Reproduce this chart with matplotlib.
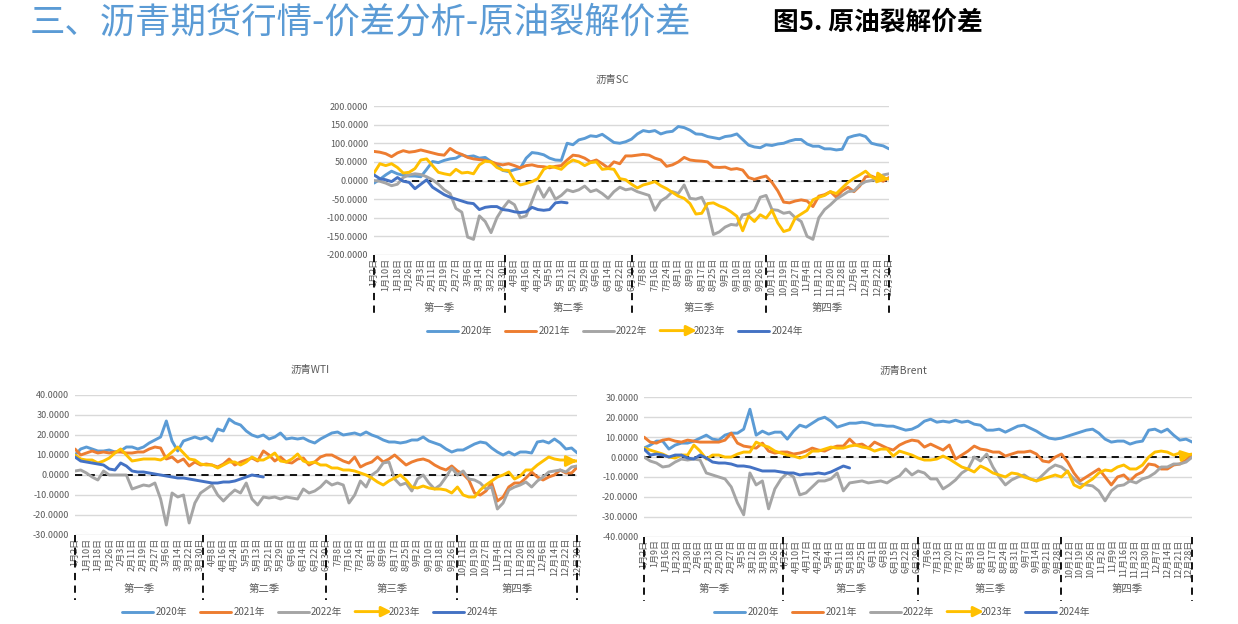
# -*- coding: utf-8 -*-
"""
沥青期货行情-价差分析-原油裂解价差
沥青SC / 沥青WTI / 沥青Brent 季节性走势
"""
import numpy as np
import matplotlib
matplotlib.use('Agg')
from matplotlib import pyplot as plt
from matplotlib.legend_handler import HandlerBase
from matplotlib.patches import FancyArrowPatch

plt.rcParams['font.family'] = ['Noto Sans CJK SC', 'DejaVu Sans']
plt.rcParams['axes.unicode_minus'] = False

###数据: 每4个日期取一个点 (半个刻度)
years = ['2020年', '2021年', '2022年', '2023年', '2024年']
colors = ['#5B9BD5', '#ED7D31', '#A5A5A5', '#FFC000', '#4472C4']

sc_2020 = [-7, 3, 15, 25, 18, 14, 12, 12, 10, 30,
           51, 48, 54, 58, 60, 69, 64, 66, 60, 62,
           51, 42, 27, 24, 29, 33, 60, 75, 73, 69,
           60, 55, 54, 100, 96, 109, 113, 120, 118, 124,
           113, 102, 100, 104,
           111, 125, 134, 131, 134, 125,
           130, 132, 145, 142, 135, 125, 124, 118, 115, 112,
           118, 120, 125, 110, 95, 90, 88, 96, 94, 98,
           100, 106, 110, 110, 98, 92, 92, 85, 85, 82,
           84, 115, 120, 123, 118, 100, 96, 93, 85]
sc_2021 = [78, 76, 72, 64, 74, 80, 76, 78, 82, 78,
           74, 70, 68, 86, 76, 70, 62, 58, 56, 54,
           50, 45, 42, 45, 40, 34, 40, 42, 38, 37,
           34, 38, 40, 55, 68, 66, 60, 50, 55, 45,
           34, 50, 45, 66,
           66, 68, 70, 68, 60, 55,
           38, 42, 50, 62, 55, 53, 52, 50, 36, 35,
           36, 30, 32, 28, 8, 3, 8, 12, -5, -28,
           -58, -60, -55, -52, -55, -70, -42, -38, -30, -45,
           -28, -18, -30, -15, 10, 12, 5, -2, 8]
sc_2022 = [0, -2, -7, -14, -10, 8, 15, 18, 16, 10,
           2, -10, -25, -35, -75, -85, -152, -158, -95, -110,
           -140, -100, -75, -55, -65, -100, -95, -55, -15, -45,
           -20, -50, -40, -25, -30, -25, -15, -30, -25, -35,
           -48, -30, -18, -25,
           -22, -30, -35, -40, -80, -55,
           -45, -30, -35, -12, -48, -50, -45, -78, -145, -138,
           -125, -118, -120, -92, -90, -80, -45, -40, -78, -80,
           -88, -85, -100, -110, -150, -158, -100, -78, -65, -50,
           -40, -30, -28, -12, -3, 0, 2, 15, 18]
sc_2023 = [20, 45, 40, 45, 35, 20, 22, 32, 55, 58,
           40, 22, 18, 15, 30, 20, 22, 18, 42, 52,
           50, 35, 28, 27, 0, -12, -8, -3, 5, 30,
           38, 35, 30, 45, 55, 50, 40, 48, 50, 30,
           32, 30, 5, 2,
           -10, -20, -12, -8, -3, -14,
           -22, -32, -42, -48, -62, -90, -88, -62, -60, -68,
           -74, -84, -96, -135, -95, -110, -92, -101, -80, -114,
           -137, -132, -100, -90, -80, -52, -45, -40, -30, -35,
           -20, -5, 6, 15, 25, 10, 2, 6, 4]
sc_2024 = [15, 5, 2, -3, 8, -2, -5, -22, -10, 2,
           -18, -28, -38, -45, -50, -55, -60, -62, -78, -72,
           -70, -70, -78, -80, -84, -86, -84, -72, -78, -80,
           -78, -60, -58, -60]

wti_2020 = [10, 13, 14, 13, 12, 12, 12.5, 11.5, 12, 14,
            14, 13, 14, 16, 17.5, 19, 27, 17, 12, 17,
            18, 19, 18, 19, 17, 23, 22, 28, 26, 25,
            22, 20, 19, 20, 18, 19, 21, 18, 18.5, 18,
            18.5, 17, 16, 18,
            19.5, 21, 21.5, 20, 20.5, 21,
            20, 21.5, 20, 19, 17.5, 16.5, 16.5, 16, 16.5, 17.5,
            17.5, 19, 17, 16, 15, 13, 11.5, 12.5, 12.5, 14,
            15.5, 16.5, 16, 13.5, 11.5, 10, 11.5, 10, 11.5, 11.5,
            11, 16.5, 17, 16, 18, 16, 13, 13.5, 11]
wti_2021 = [13, 10, 11, 12, 11, 11.5, 11, 11.5, 11.5, 11,
            11, 11.5, 11.5, 13, 14, 13.5, 8, 9, 6.5, 8,
            4.5, 6.5, 5, 5.5, 5, 4, 5.5, 8, 5, 6.5,
            7.5, 8.5, 7, 12, 10, 7, 9, 6.5, 6, 8,
            8.5, 5, 6.5, 9,
            10, 10, 8.5, 7, 6, 9,
            4, 5.5, 6.5, 9, 6.5, 8, 10, 7.5, 5, 6.5,
            7.5, 8, 7, 5, 3.5, 2.5, 4.5, 2, 0.5, -2.5,
            -9, -10, -8, -4, -13, -11, -6, -4, -4, -1.5,
            1.5, -1, -2.5, -1, 0, 2.5, 1, 1, 4]
wti_2022 = [2, 2.5, 1, -1, -2.5, 2, 0, 0, 0, 0,
            -7, -6, -5, -5.5, -4, -12, -25, -9, -11, -10,
            -24, -14, -9, -7, -5, -10, -13, -10, -7.5, -9,
            -4, -12, -15, -11, -11.5, -11, -12, -11, -11.5, -12,
            -7, -9, -8, -6,
            -3, -5, -4, -5, -14, -10,
            -3, -6, 0, 2, 6, 6.5, -2, -5, -4, -8,
            -2, 0, -4, -7, -5, -1, 3.5, 0, 2, -2,
            -2.5, -4, -7, -6, -17, -14, -7.5, -6, -5, -3.5,
            -6, -3, -1, 1.5, 2, 2.5, 1.5, 4, 4.5]
wti_2023 = [10, 8, 7.5, 7.5, 6, 7, 8.5, 11, 13, 10,
            7, 7.5, 8, 8, 8, 7.5, 9, 11.5, 14, 11,
            8, 7.5, 5.5, 5, 5, 3.5, 5, 6.5, 6.5, 5,
            6.5, 9, 7.5, 7.5, 9, 11, 7, 6.5, 8, 10.5,
            7, 6, 6.5, 5,
            5, 3.5, 3.5, 2.5, 2.5, 2,
            1, 0, -1.5, -3.5, -5, -3, -1.5, 0, -2.5, -6,
            -6.5, -5.5, -6.5, -7, -7, -7.5, -9, -6, -10, -11,
            -11, -7.5, -5, -3, -1, 0, 1.5, -2, -0.5, 2.5,
            2.5, 5, 7, 9, 8, 7.5, 7.5, 7, 7]
wti_2024 = [9, 7, 6.5, 6, 5.5, 5, 3, 2.5, 6, 4.5,
            2, 1.5, 1.5, 1, 0.5, 0, -0.5, -1, -1.5, -1.5,
            -2, -2.5, -3, -3.5, -4, -4, -3.5, -3.5, -3, -2,
            -1, 0, -0.5, -1]

brent_2020 = [4.5, 6, 8, 8, 4, 6, 7, 7, 8, 9.5,
              11, 9, 8.5, 11, 12, 12, 14, 24, 11, 13,
              11.5, 12.5, 12.5, 9, 13, 16, 15, 17, 19, 20,
              18, 15, 16, 17, 17, 17.5, 17, 16, 16, 15.5,
              15.5, 14.5, 13.5, 14,
              15.5, 18, 19, 17.5, 18, 17.5,
              18.5, 17.5, 18, 16.5, 16, 13.5, 13.5, 14, 12.5, 14,
              15.5, 16, 14.5, 13, 11, 9.5, 9, 9.5, 10.5, 11.5,
              12.5, 13.5, 14, 12, 9, 7.5, 8, 8, 6.5, 7.5,
              8, 13.5, 14, 12.5, 14, 11, 8.5, 9, 7.5]
brent_2021 = [10, 7.5, 7, 8.5, 9, 8, 7.5, 8.5, 8, 7.5,
              7.5, 7.5, 7.5, 8.5, 12, 7, 5.5, 5, 4.5, 7,
              3, 2, 2.5, 2.5, 1.5, 2, 3, 4.5, 3.5, 3,
              4.5, 5.5, 5.5, 9, 6, 6.5, 4.5, 7.5, 6, 4.5,
              3.5, 6, 7.5, 8.5,
              8, 5, 6.5, 5, 3.5, 6,
              -1, 1, 3, 5.5, 4, 3.5, 2.5, 2.5, 0.5, 1.5,
              2.5, 2.5, 3, 1.5, -2, -2.5, 0, 1.5, -2.5, -8,
              -12, -10, -8, -6, -10, -14, -10, -9, -12, -9,
              -7.5, -3.5, -4, -6, -6, -4, -3.5, -1.5, 1]
brent_2022 = [0, -2, -3, -5, -4.5, -2.5, -1, -1.5, -1, -1.5,
              -8, -9, -10, -11, -15, -23, -29, -8, -14, -12,
              -26, -16, -11, -8, -10, -19, -18, -15, -12, -12,
              -11, -8, -17, -13, -12.5, -12, -13, -12.5, -12, -13,
              -11, -9.5, -6, -9,
              -7, -8, -11, -11, -16, -14,
              -11.5, -8, -6, 0, -2, 1.5, -5, -10, -14, -11.5,
              -10, -9, -11, -12, -9, -6, -4, -5, -7.5, -11,
              -13.5, -14, -14.5, -17, -22, -17, -14.5, -14, -12, -13,
              -11, -10, -8, -5, -5, -3.5, -3.5, -2.5, 0]
brent_2023 = [4.5, 3.5, 2.5, 1.5, 0, -0.5, 1, 1, 6, 3,
              -1, 1, 1, 0, 0, 1.5, 2.5, 2.5, 7.5, 6,
              5, 3, 2, 1, 0.5, -0.5, 0.5, 3, 3, 4,
              5, 4.5, 4.5, 5.5, 6, 5, 4.5, 3, 4, 4,
              0.5, 3, 2, 1,
              -0.5, -1.5, -1.5, -1, 0.5, -1,
              -3, -5, -6, -7.5, -4.5, -6, -8, -9, -10, -8,
              -8.5, -10, -11, -12, -11, -10, -9, -10, -7, -14,
              -15.5, -13, -11, -8, -6.5, -7, -5, -4, -6, -6,
              -4, 0, 2.5, 3, 2.5, 1, 2, 1, 1.5]
brent_2024 = [4, 1, 1.5, 1, 0, 1, 1, -0.5, -1, 1,
              -0.5, -2.5, -3, -3, -3.5, -4.5, -4.5, -5, -6, -7,
              -7, -7, -7.5, -8, -8, -9, -8.5, -8.5, -8, -8.5,
              -7.5, -6, -4.5, -5.5]

###横轴日期标签
sc_labels = ['1月2日', '1月10日', '1月18日', '1月26日', '2月3日', '2月11日', '2月19日',
             '2月27日', '3月6日', '3月14日', '3月22日', '3月30日', '4月8日', '4月16日',
             '4月24日', '5月5日', '5月13日', '5月21日', '5月29日', '6月6日', '6月14日',
             '6月22日', '6月30日', '7月8日', '7月16日', '7月24日', '8月1日', '8月9日',
             '8月17日', '8月25日', '9月2日', '9月10日', '9月18日', '9月26日', '10月11日',
             '10月19日', '10月27日', '11月4日', '11月12日', '11月20日', '11月28日',
             '12月6日', '12月14日', '12月22日', '12月30日']
wti_labels = sc_labels
brent_labels = ['1月2日', '1月9日', '1月16日', '1月23日', '1月30日', '2月6日', '2月13日',
                '2月20日', '2月27日', '3月5日', '3月12日', '3月19日', '3月26日', '4月2日',
                '4月10日', '4月17日', '4月24日', '5月4日', '5月11日', '5月18日', '5月25日',
                '6月1日', '6月8日', '6月15日', '6月22日', '6月29日', '7月6日', '7月13日',
                '7月20日', '7月27日', '8月3日', '8月10日', '8月17日', '8月24日', '8月31日',
                '9月7日', '9月14日', '9月21日', '9月28日', '10月12日', '10月19日',
                '10月26日', '11月2日', '11月9日', '11月16日', '11月23日', '11月30日',
                '12月7日', '12月14日', '12月21日', '12月28日']
quarters = ['第一季', '第二季', '第三季', '第四季']
quarter_edges = [0, 89.5, 176, 268, 352]   # 类别序号
n_days = 352
sample_step = 4


class ArrowHandler(HandlerBase):
    # 图例里2023年画成带箭头的线
    def create_artists(self, legend, orig_handle, xdescent, ydescent,
                       width, height, fontsize, trans):
        y = height / 2 - ydescent
        arr = FancyArrowPatch((-xdescent, y), (width - xdescent + 4, y),
                              arrowstyle='-|>', mutation_scale=15,
                              color=orig_handle.get_color(),
                              lw=orig_handle.get_linewidth(),
                              shrinkA=0, shrinkB=0, transform=trans)
        return [arr]


def showSeasonPlot(fig, rect, title, title_xy, data, yticks, labels, label_step,
                   sep_y, quarter_y, legend_xy):
    ax = fig.add_axes(rect)
    lines = []
    for name, c, y in zip(years, colors, data):
        x = np.arange(len(y)) * sample_step
        l, = ax.plot(x, y, color=c, lw=2.1, label=name, zorder=3, solid_capstyle='round')
        lines.append(l)
        if name == '2023年':
            ax.annotate('', xy=(x[-1], y[-1]), xytext=(x[-2], y[-2]),
                        arrowprops=dict(arrowstyle='-|>', color=c, lw=2,
                                        mutation_scale=16, shrinkA=0, shrinkB=0),
                        zorder=4)
    ax.axhline(0, color='black', ls=(0, (4, 3)), lw=1.3, zorder=2.5)

    ax.set_xlim(0, n_days)
    ax.set_ylim(yticks[0], yticks[-1])
    ax.set_yticks(yticks)
    ax.set_yticklabels(['%.4f' % v for v in yticks])
    ax.set_xticks(np.arange(len(labels)) * label_step)
    ax.set_xticklabels(labels, rotation=90, va='top', ha='center')
    ax.tick_params(axis='both', length=0, labelsize=6.5, labelcolor='#595959')
    ax.tick_params(axis='y', pad=4)
    ax.tick_params(axis='x', pad=2)
    ax.yaxis.grid(True, color='#D9D9D9', lw=1)
    ax.set_axisbelow(True)
    for s in ax.spines.values():
        s.set_visible(False)

    ###季度分隔线和季度名称
    trans = ax.get_xaxis_transform()
    for e in quarter_edges:
        ax.plot([e, e], [0, sep_y], transform=trans, clip_on=False,
                color='black', ls=(0, (4, 3)), lw=1.3)
    for i, q in enumerate(quarters):
        mid = (quarter_edges[i] + quarter_edges[i + 1]) / 2
        ax.text(mid, quarter_y, q, transform=trans, ha='center', va='center',
                fontsize=7.5, color='#595959')

    fig.text(title_xy[0] / 1238, 1 - title_xy[1] / 624, title, ha='center', va='center',
             fontsize=7.5, color='#595959')
    ax.legend(lines, years, loc='center', ncol=5, frameon=False, fontsize=7,
              labelcolor='#595959', handlelength=3.2, handletextpad=0.25,
              columnspacing=1.3,
              bbox_to_anchor=(legend_xy[0] / 1238, 1 - legend_xy[1] / 624),
              bbox_transform=fig.transFigure,
              handler_map={lines[3]: ArrowHandler()})
    return ax


if __name__ == "__main__":
    fig = plt.figure(figsize=(12.38, 6.24), dpi=100)

    fig.text(30 / 1238, 1 - 22 / 624, '三、沥青期货行情-价差分析-原油裂解价差',
             fontsize=25.5, color='#5B9BD5', va='center', ha='left')
    fig.text(773 / 1238, 1 - 22 / 624, '图5. 原油裂解价差',
             fontsize=18.5, fontweight='bold', color='black', va='center', ha='left')

    showSeasonPlot(fig, [374 / 1238, 1 - 255 / 624, 515 / 1238, 149 / 624],
                   '沥青SC', (612, 80),
                   [sc_2020, sc_2021, sc_2022, sc_2023, sc_2024],
                   list(range(-200, 201, 50)), sc_labels, 8,
                   -0.423, -0.356, (615, 331))
    showSeasonPlot(fig, [75 / 1238, 1 - 535 / 624, 502.3 / 1238, 140 / 624],
                   '沥青WTI', (310, 370),
                   [wti_2020, wti_2021, wti_2022, wti_2023, wti_2024],
                   list(range(-30, 41, 10)), wti_labels, 8,
                   -0.464, -0.386, (310, 612))
    showSeasonPlot(fig, [644 / 1238, 1 - 536.7 / 624, 548.3 / 1238, 139.4 / 624],
                   '沥青Brent', (903, 371),
                   [brent_2020, brent_2021, brent_2022, brent_2023, brent_2024],
                   list(range(-40, 31, 10)), brent_labels, 7,
                   -0.46, -0.375, (902, 612))

    fig.savefig('out.png', dpi=100)
